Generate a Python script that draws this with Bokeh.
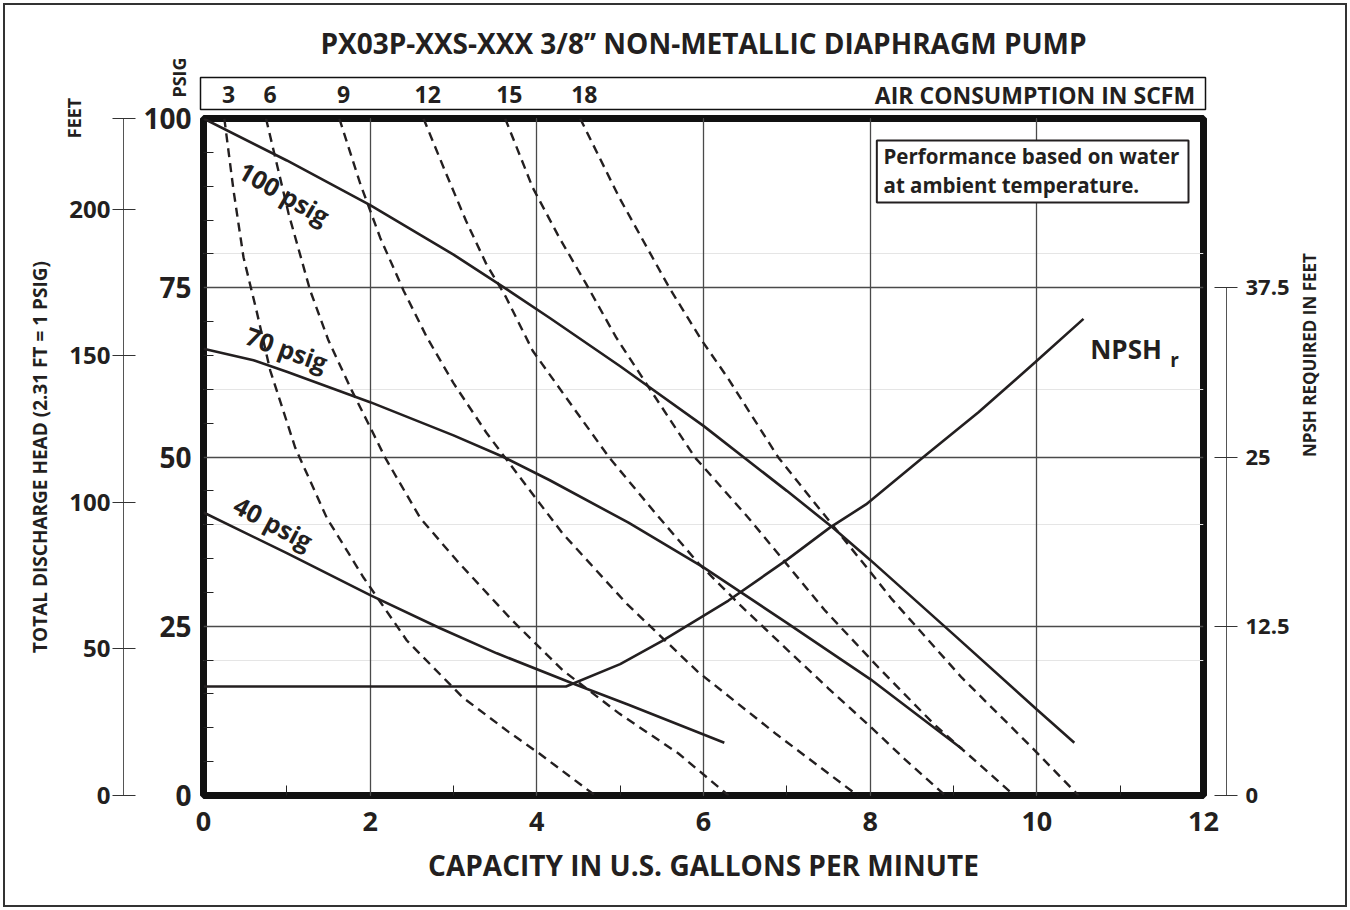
import math
from bokeh.plotting import figure
from bokeh.models import Range1d, LinearAxis, FixedTicker, Grid
from bokeh.layouts import column
from bokeh.embed import file_html
from bokeh.resources import INLINE
from bokeh.core.properties import value

FONT = "Open Sans"
INK = "#231f20"

# ---------------- data ----------------
gpm_100 = [0, 1, 2, 3, 3.6, 4.16, 5, 6, 7, 7.55, 8, 9, 10, 10.45]
psig_100 = [100, 93.8, 87.2, 79.9, 75.1, 70.5, 63.4, 54.6, 45.0, 39.6, 34.8, 23.8, 12.7, 7.8]

gpm_70 = [0, 0.6, 1, 2, 3, 3.6, 4.15, 5.1, 6, 7, 8, 9.1]
psig_70 = [66, 64.3, 62.6, 58.1, 53.2, 50.0, 46.6, 40.3, 33.7, 25.5, 17.2, 6.9]

gpm_40 = [0, 1, 2, 2.84, 3.52, 4.44, 5.1, 6.25]
psig_40 = [41.8, 35.8, 29.6, 24.7, 21.0, 16.5, 13.4, 7.8]

npsh_gpm = [0, 4.35, 5.0, 5.5, 6.3, 7.0, 7.52, 7.95, 8.68, 9.3, 9.98, 10.56]
npsh_ft = [8.05, 8.05, 9.7, 11.4, 14.4, 17.4, 19.8, 21.5, 25.2, 28.3, 32.0, 35.2]

scfm_labels = ["3", "6", "9", "12", "15", "18"]
scfm_3_gpm = [0.25, 0.36, 0.48, 0.64, 0.8, 1.1, 1.48, 1.92, 2.44, 3.11, 3.66, 4.03, 4.7]
scfm_3_psig = [100, 89.4, 79.5, 71.4, 62.8, 51.4, 41, 32.2, 22.9, 14.5, 9.4, 6.2, 0]
scfm_6_gpm = [0.75, 1.02, 1.28, 1.5, 1.78, 2.0, 2.18, 2.6, 3.04, 3.71, 4.31, 4.99, 5.7, 6.3]
scfm_6_psig = [100, 86, 74.6, 67.2, 59.8, 54.4, 49.9, 41, 34.7, 25.8, 18.5, 12.1, 6.2, 0]
scfm_9_gpm = [1.63, 1.88, 2.12, 2.4, 2.68, 3.0, 3.4, 3.76, 4.31, 5.08, 5.93, 6.88, 7.85]
scfm_9_psig = [100, 90.4, 82.4, 74.6, 67.7, 60.9, 53.5, 47.6, 38.7, 28.3, 18.3, 9.0, 0]
scfm_12_gpm = [2.64, 2.91, 3.15, 3.39, 3.63, 3.95, 4.35, 4.87, 5.43, 5.94, 6.45, 7.0, 7.5, 8.0, 8.42, 8.9]
scfm_12_psig = [100, 91.9, 84.9, 78.6, 73.6, 65.7, 58.8, 49.9, 41.6, 34.3, 28.0, 21.6, 15.8, 10.2, 5.3, 0]
scfm_15_gpm = [3.62, 3.95, 4.27, 4.59, 4.95, 5.31, 5.9, 6.54, 7.46, 8.1, 8.76, 9.73]
scfm_15_psig = [100, 89.8, 82.4, 75.6, 67.7, 60.9, 49.9, 41, 27.3, 18.9, 10.6, 0]
scfm_18_gpm = [4.52, 4.99, 5.59, 5.98, 6.29, 6.9, 7.44, 7.99, 8.26, 9.1, 9.94, 10.5]
scfm_18_psig = [100, 88.3, 75, 67.2, 61.7, 49.9, 41.6, 33.2, 29.0, 17.4, 7.1, 0]

x_ticks = [0, 2, 4, 6, 8, 10, 12]
x_minor = [1, 3, 5, 7, 9, 11]
psig_ticks = [0, 25, 50, 75, 100]
psig_minor = [5, 10, 15, 20, 30, 35, 40, 45, 55, 60, 65, 70, 80, 85, 90, 95]
feet_ticks = [0, 50, 100, 150, 200, 231]
npsh_ticks = [0, 12.5, 25, 37.5]

# ---------------- layout ----------------
W = 1340
LEFT = 198
FRAME_W = 1000
RIGHT = W - LEFT - FRAME_W
PX = FRAME_W / 12.0           # pixels per gpm

# ---- top strip (title, PSIG/FEET captions, air consumption box) ----
A_H = 155
A_L, A_R, A_T = 10, 5, 5
a_x0 = -(LEFT - A_L) / PX
a_x1 = a_x0 + (W - A_L - A_R) / PX
top = figure(width=W, height=A_H, x_range=Range1d(a_x0, a_x1), y_range=Range1d(0, A_H - A_T),
             x_axis_location=None, y_axis_location=None, toolbar_location=None,
             output_backend="svg", min_border_left=A_L, min_border_right=A_R,
             min_border_top=A_T, min_border_bottom=0)
top.frame_align = False
top.xgrid.visible = False
top.ygrid.visible = False
top.outline_line_color = None

txt = dict(text_font=value(FONT), text_font_style="bold", text_color=INK,
           text_baseline="middle")
top.text(x=[6.0], y=[118], text=["PX03P-XXS-XXX 3/8\u2019\u2019 NON-METALLIC DIAPHRAGM PUMP"],
         text_align="center", text_font_size="28px", **txt)
top.quad(left=[-0.036], right=[12.024], top=[83], bottom=[51], fill_color=None,
         line_color="#111111", line_width=1.5)
starts = [c[0] + 0.05 for c in (scfm_3_gpm, scfm_6_gpm, scfm_9_gpm, scfm_12_gpm, scfm_15_gpm, scfm_18_gpm)]
top.text(x=starts, y=[66] * len(starts), text=scfm_labels, text_align="center",
         text_font_size="23px", **txt)
top.text(x=[11.9], y=[66], text=["AIR CONSUMPTION IN SCFM"], text_align="right",
         text_font_size="23px", **txt)
top.text(x=[-0.29], y=[83], text=["PSIG"], angle=math.pi / 2, text_align="center",
         text_font_size="18px", **txt)
top.text(x=[-1.56], y=[42.5], text=["FEET"], angle=math.pi / 2, text_align="center",
         text_font_size="18px", **txt)

# ---- main chart (overlaps the strip; its border is transparent) ----
OVER = 63
p = figure(width=W, height=900 - A_H + OVER, x_range=Range1d(0, 12), y_range=Range1d(0, 100),
           x_axis_location=None, y_axis_location=None, toolbar_location=None,
           output_backend="svg", min_border_left=LEFT, min_border_right=RIGHT,
           min_border_top=21, min_border_bottom=110,
           styles={"margin-top": "-%dpx" % OVER})
p.frame_align = False
p.border_fill_color = None
p.extra_y_ranges = {"feet": Range1d(0, 231), "npsh": Range1d(0, 50)}
p.outline_line_color = "#111111"
p.outline_line_width = 7


def style_axis(ax):
    ax.major_label_text_font = FONT
    ax.major_label_text_font_style = "bold"
    ax.major_label_text_color = INK
    ax.axis_label_text_font = FONT
    ax.axis_label_text_font_style = "bold"
    ax.axis_label_text_color = INK


def spacer(standoff):
    ax = LinearAxis(ticker=FixedTicker(ticks=[]), axis_line_color=None,
                    major_tick_out=0, major_tick_in=0, minor_tick_out=0, minor_tick_in=0,
                    major_label_standoff=0, major_label_text_font_size="1px")
    ax.axis_label = "."
    ax.axis_label_text_alpha = 0
    ax.axis_label_text_font_size = "10px"
    ax.axis_label_standoff = standoff
    return ax


# bottom axis
xaxis = LinearAxis(ticker=FixedTicker(ticks=x_ticks, minor_ticks=x_minor))
style_axis(xaxis)
xaxis.axis_line_color = None
xaxis.major_tick_in = 0
xaxis.major_tick_out = 0
xaxis.minor_tick_in = 10
xaxis.minor_tick_out = 0
xaxis.minor_tick_line_color = "#222222"
xaxis.major_label_text_font_size = "27px"
xaxis.major_label_standoff = 16
xaxis.axis_label = "CAPACITY IN U.S. GALLONS PER MINUTE"
xaxis.axis_label_text_font_size = "28px"
xaxis.axis_label_standoff = 12
p.add_layout(xaxis, "below")

# left PSIG axis
psig_axis = LinearAxis(ticker=FixedTicker(ticks=psig_ticks, minor_ticks=psig_minor))
style_axis(psig_axis)
psig_axis.axis_line_color = None
psig_axis.major_tick_in = 0
psig_axis.major_tick_out = 0
psig_axis.minor_tick_in = 10
psig_axis.minor_tick_out = 0
psig_axis.minor_tick_line_color = "#222222"
psig_axis.major_label_text_font_size = "28px"
psig_axis.major_label_standoff = 12
p.add_layout(psig_axis, "left")

p.add_layout(spacer(6), "left")

# FEET axis
feet_axis = LinearAxis(y_range_name="feet", ticker=FixedTicker(ticks=feet_ticks))
style_axis(feet_axis)
feet_axis.major_label_overrides = {231: ""}
feet_axis.axis_line_color = "#555555"
feet_axis.major_tick_line_color = "#333333"
feet_axis.major_tick_in = 12
feet_axis.major_tick_out = 11
feet_axis.minor_tick_in = 0
feet_axis.minor_tick_out = 0
feet_axis.major_label_text_font_size = "24px"
feet_axis.major_label_standoff = 2
feet_axis.axis_label = "TOTAL DISCHARGE HEAD (2.31 FT = 1 PSIG)"
feet_axis.axis_label_text_font_size = "19px"
feet_axis.axis_label_standoff = 13
p.add_layout(feet_axis, "left")

# right side
p.add_layout(spacer(12), "right")

npsh_axis = LinearAxis(y_range_name="npsh", ticker=FixedTicker(ticks=npsh_ticks), bounds=(0, 37.5))
style_axis(npsh_axis)
npsh_axis.axis_line_color = "#555555"
npsh_axis.major_tick_line_color = "#333333"
npsh_axis.major_tick_in = 12
npsh_axis.major_tick_out = 11
npsh_axis.minor_tick_in = 0
npsh_axis.minor_tick_out = 0
npsh_axis.major_label_text_font_size = "22px"
npsh_axis.major_label_standoff = 8
npsh_axis.axis_label = "NPSH REQUIRED IN FEET"
npsh_axis.axis_label_text_font_size = "17px"
npsh_axis.axis_label_standoff = 17
if hasattr(npsh_axis, "axis_label_orientation"):
    npsh_axis.axis_label_orientation = math.pi / 2
p.add_layout(npsh_axis, "right")

# grids
p.add_layout(Grid(dimension=0, ticker=xaxis.ticker, grid_line_color="#4a4a4a", grid_line_width=1.3))
p.add_layout(Grid(dimension=1, ticker=psig_axis.ticker, grid_line_color="#4a4a4a", grid_line_width=1.3))

# dashed air-consumption curves
for gx, gy in ((scfm_3_gpm, scfm_3_psig), (scfm_6_gpm, scfm_6_psig), (scfm_9_gpm, scfm_9_psig),
               (scfm_12_gpm, scfm_12_psig), (scfm_15_gpm, scfm_15_psig), (scfm_18_gpm, scfm_18_psig)):
    p.line(gx, gy, line_color=INK, line_width=2.4, line_dash="9 6")

# performance curves
for gx, gy in ((gpm_100, psig_100), (gpm_70, psig_70), (gpm_40, psig_40)):
    p.line(gx, gy, line_color=INK, line_width=2.6)

# NPSH curve
p.line(npsh_gpm, npsh_ft, y_range_name="npsh", line_color=INK, line_width=2.6)

# curve labels
lab_kw = dict(text_align="center", text_baseline="middle", text_font=value(FONT),
              text_font_style="bold", text_font_size="25px", text_color=INK)
p.text(x=[0.97], y=[89.0], text=["100 psig"], angle=math.radians(-30), **lab_kw)
p.text(x=[1.0], y=[66.0], text=["70 psig"], angle=math.radians(-20), **lab_kw)
p.text(x=[0.84], y=[40.3], text=["40 psig"], angle=math.radians(-28), **lab_kw)
p.text(x=[10.64], y=[66.0], text=["NPSH"], text_align="left", text_baseline="middle",
       text_font=value(FONT), text_font_style="bold", text_font_size="26px", text_color=INK)
p.text(x=[11.6], y=[64.4], text=["r"], text_align="left", text_baseline="middle",
       text_font=value(FONT), text_font_style="bold", text_font_size="19px", text_color=INK)

# note box
p.quad(left=[8.08], right=[11.82], top=[96.75], bottom=[87.6], fill_color="white",
       line_color=INK, line_width=2)
note_kw = dict(text_align="left", text_baseline="middle", text_font=value(FONT),
               text_font_style="bold", text_font_size="20.5px", text_color=INK)
p.text(x=[8.16], y=[94.4], text=["Performance based on water"], **note_kw)
p.text(x=[8.16], y=[90.2], text=["at ambient temperature."], **note_kw)

layout = column(top, p, spacing=0, styles={"border": "2px solid #333333", "margin": "3px"})
open("out.html", "w").write(file_html(layout, INLINE))
